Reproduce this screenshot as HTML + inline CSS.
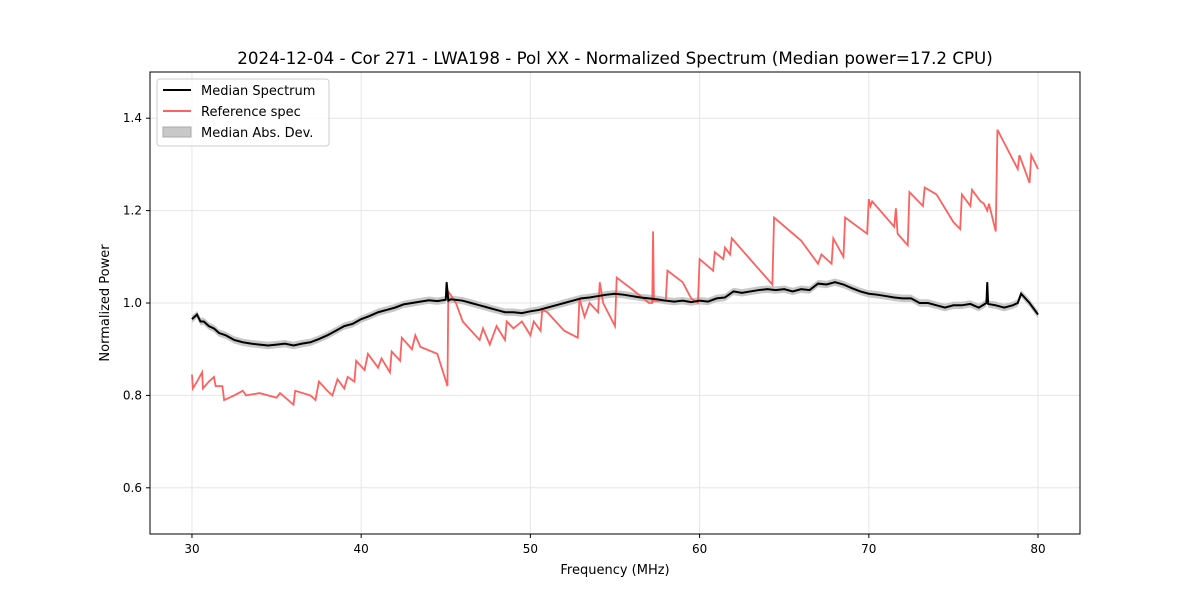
<!DOCTYPE html>
<html><head><meta charset="utf-8"><style>
body{margin:0;background:#fff;font-family:"Liberation Sans","DejaVu Sans",sans-serif}
svg text{font-family:"DejaVu Sans","Liberation Sans",sans-serif}
</style></head><body>
<svg id="chart" width="1200" height="600" xmlns="http://www.w3.org/2000/svg">
<rect width="1200" height="600" fill="#fff"/>
<text x="615" y="64" text-anchor="middle" font-size="16.7">2024-12-04 - Cor 271 - LWA198 - Pol XX - Normalized Spectrum (Median power=17.2 CPU)</text>
<g id="grid"></g>
<g id="series"></g>
<rect x="150" y="72" width="930" height="462" fill="none" stroke="#000" stroke-width="1"/>
<g id="ticks"></g>
<text x="615" y="574" text-anchor="middle" font-size="13">Frequency (MHz)</text>
<text transform="translate(109,303) rotate(-90)" text-anchor="middle" font-size="13">Normalized Power</text>
<g>
<rect x="157" y="79" width="172" height="67" rx="3" fill="#fff" stroke="#ccc" fill-opacity="0.8"/>
<g><line x1="163" y1="90" x2="191" y2="90" stroke="#000" stroke-width="2"/><text x="201" y="95" font-size="13">Median Spectrum</text></g>
<g><line x1="163" y1="111" x2="191" y2="111" stroke="#ff6060" stroke-width="2"/><text x="201" y="116" font-size="13">Reference spec</text></g>
<g><rect x="163" y="127" width="28" height="10" fill="#c8c8c8" stroke="#aaa"/><text x="201" y="137" font-size="13">Median Abs. Dev.</text></g>
</g>
</svg>
<script>
const xTicks=[30,40,50,60,70,80];
const yTicks=[0.6,0.8,1.0,1.2,1.4];
const yTickLabels=["0.6","0.8","1.0","1.2","1.4"];
const medFreq=[30,30.3,30.5,30.7,31,31.3,31.6,32,32.5,33,33.5,34,34.5,35,35.5,36,36.5,37,37.5,38,38.5,39,39.5,40,40.5,41,41.5,42,42.5,43,43.5,44,44.5,45,45.05,45.15,45.3,46,46.5,47,47.5,48,48.5,49,49.5,50,50.5,51,51.5,52,52.5,53,53.5,54,54.5,55,55.5,56,56.5,57,57.5,58,58.5,59,59.5,60,60.5,61,61.5,62,62.5,63,63.5,64,64.5,65,65.5,66,66.5,67,67.5,68,68.5,69,69.5,70,70.5,71,71.5,72,72.5,73,73.5,74,74.5,75,75.5,76,76.5,76.95,77,77.05,77.5,78,78.5,78.8,79,79.5,80];
const medVal=[0.965,0.975,0.96,0.96,0.95,0.945,0.935,0.93,0.92,0.915,0.912,0.91,0.908,0.91,0.912,0.908,0.912,0.915,0.922,0.93,0.94,0.95,0.955,0.965,0.972,0.98,0.985,0.99,0.997,1.0,1.003,1.006,1.004,1.007,1.045,1.005,1.008,1.005,1.0,0.995,0.99,0.985,0.98,0.98,0.978,0.982,0.985,0.99,0.995,1.0,1.005,1.01,1.012,1.015,1.018,1.02,1.018,1.015,1.012,1.01,1.008,1.005,1.003,1.005,1.002,1.005,1.003,1.01,1.012,1.025,1.022,1.025,1.028,1.03,1.028,1.03,1.025,1.03,1.028,1.042,1.04,1.045,1.04,1.032,1.025,1.02,1.018,1.015,1.012,1.01,1.01,1.0,1.0,0.995,0.99,0.995,0.995,0.998,0.99,1.0,1.045,0.998,0.995,0.99,0.995,1.0,1.02,1.0,0.975];
const medMad=0.008;
const refFreq=[30,30.05,30.3,30.6,30.65,31,31.3,31.4,31.8,31.9,32.5,33,33.2,34,35,35.2,36,36.1,37,37.3,37.5,38,38.3,38.6,39,39.2,39.6,39.7,40.2,40.4,41,41.2,41.7,41.8,42.3,42.4,43,43.2,43.5,44.5,45.1,45.15,45.6,46,46.5,47,47.2,47.6,48,48.5,48.6,49,49.5,50,50.2,50.6,50.7,51,52,52.8,52.9,53.2,53.5,54,54.1,54.3,55,55.1,56,57,57.2,57.25,57.3,58,58.1,59,59.5,59.9,60,60.8,60.9,61.4,61.5,61.8,61.9,64.3,64.4,66,67,67.2,67.8,67.9,68.5,68.6,69.9,70,70.1,70.2,71.5,71.6,71.7,72.3,72.4,73.2,73.3,74,75,75.4,75.5,76,76.1,76.6,76.8,77,77.1,77.5,77.6,78.8,78.9,79.5,79.6,80];
const refVal=[0.845,0.815,0.83,0.85,0.815,0.83,0.84,0.82,0.82,0.79,0.8,0.81,0.8,0.805,0.795,0.805,0.78,0.81,0.8,0.79,0.83,0.81,0.8,0.835,0.815,0.84,0.83,0.875,0.855,0.89,0.86,0.88,0.85,0.895,0.875,0.925,0.9,0.93,0.905,0.89,0.82,1.025,1.0,0.96,0.94,0.92,0.945,0.91,0.95,0.92,0.96,0.945,0.96,0.93,0.96,0.94,0.985,0.98,0.94,0.925,1.01,0.97,1.0,0.98,1.045,1.0,0.95,1.055,1.03,1.0,1.0,1.155,1.005,1.005,1.07,1.045,1.01,1.0,1.095,1.07,1.11,1.095,1.12,1.105,1.14,1.04,1.185,1.135,1.085,1.105,1.085,1.14,1.1,1.185,1.15,1.225,1.21,1.22,1.165,1.205,1.15,1.125,1.24,1.21,1.25,1.235,1.175,1.16,1.235,1.21,1.245,1.22,1.215,1.2,1.215,1.155,1.375,1.29,1.32,1.26,1.32,1.29];
const NS="http://www.w3.org/2000/svg";
const X=f=>150+(f-27.52)*930/54.96;
const Y=v=>534-(v-0.5)*462;
function mk(t,a,p){const e=document.createElementNS(NS,t);for(const k in a)e.setAttribute(k,a[k]);p.appendChild(e);return e;}
const grid=document.getElementById('grid'),ticks=document.getElementById('ticks'),ser=document.getElementById('series');
xTicks.forEach(t=>{const x=X(t);
const g=mk('line',{x1:x,x2:x,y1:72,y2:534,stroke:'#e6e6e6'},grid);


mk('line',{x1:x,x2:x,y1:534,y2:538,stroke:'#000'},ticks);
const tx=mk('text',{x:x,y:553,'text-anchor':'middle','font-size':12},ticks);tx.textContent=t;

});
yTicks.forEach((t,i)=>{const y=Y(t);
const g=mk('line',{x1:150,x2:1080,y1:y,y2:y,stroke:'#e6e6e6'},grid);


mk('line',{x1:146,x2:150,y1:y,y2:y,stroke:'#000'},ticks);
const tx=mk('text',{x:142,y:y+4,'text-anchor':'end','font-size':12},ticks);tx.textContent=yTickLabels[i];

});
let up=medFreq.map((f,i)=>X(f)+','+Y(medVal[i]+medMad)).join(' ');
let dn=medFreq.map((f,i)=>X(f)+','+Y(medVal[i]-medMad)).reverse().join(' ');
const band=mk('polygon',{points:up+' '+dn,fill:'#c8c8c8'},ser);


const ref=mk('polyline',{points:refFreq.map((f,i)=>X(f)+','+Y(refVal[i])).join(' '),fill:'none',stroke:'#ff6060','stroke-width':1.8},ser);


const med=mk('polyline',{points:medFreq.map((f,i)=>X(f)+','+Y(medVal[i])).join(' '),fill:'none',stroke:'#000','stroke-width':2},ser);


</script>
</body></html>
